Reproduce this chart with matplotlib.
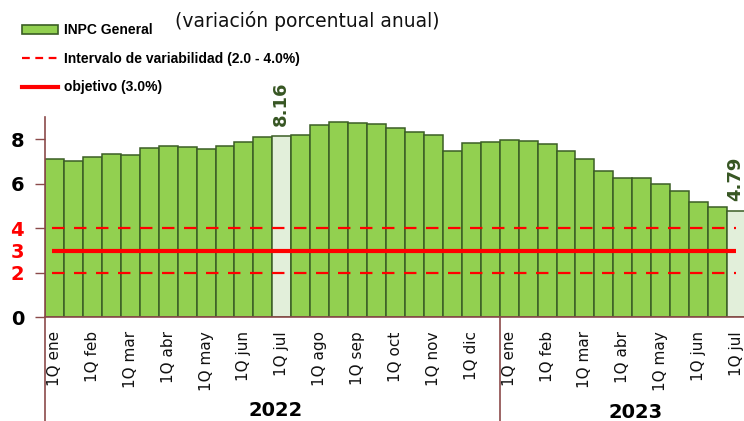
import matplotlib
matplotlib.use("Agg")
import matplotlib.pyplot as plt
import matplotlib.transforms as mtransforms
from matplotlib.patches import Patch
from matplotlib.lines import Line2D

# ---- data ----
values_2022 = [7.13, 7.02, 7.22, 7.35, 7.31, 7.62, 7.71, 7.67, 7.58, 7.71, 7.89, 8.12,
               8.16, 8.18, 8.63, 8.79, 8.75, 8.67, 8.52, 8.31, 8.18, 7.49, 7.82, 7.89]
values_2023 = [7.95, 7.91, 7.77, 7.49, 7.11, 6.59, 6.26, 6.26, 5.99, 5.69, 5.18, 4.94, 4.79]
months_2022 = ["ene", "feb", "mar", "abr", "may", "jun", "jul", "ago", "sep", "oct", "nov", "dic"]
months_2023 = ["ene", "feb", "mar", "abr", "may", "jun", "jul"]
years = ["2022", "2023"]
highlight_idx = [12, 36]
band_low, band_high, target = 2.0, 4.0, 3.0

values = values_2022 + values_2023
n = len(values)
tick_pos = list(range(0, n, 2))
tick_labels = ["1Q " + m for m in months_2022 + months_2023]

GREEN = "#92D050"
LIGHT = "#E2EFDA"
EDGE = "#3B5E25"
DARKG = "#375623"
RED = "#FF0000"
SPINE = "#8B4A4A"

fig = plt.figure(figsize=(7.44, 4.21), dpi=100)
W, H = 744, 421
ax = fig.add_axes([45 / W, (H - 317.3) / H, 701 / W, 200.3 / H])

colors = [LIGHT if i in highlight_idx else GREEN for i in range(n)]
ax.bar(range(n), values, width=1.0, color=colors, edgecolor=EDGE, linewidth=1.1, zorder=2)

ax.hlines([band_low, band_high], -0.13, 35.97, colors=RED, linewidth=1.6,
          linestyles=(0, (5.6, 4.3)), zorder=3)
ax.hlines([target], -0.13, 35.97, colors=RED, linewidth=3.0, zorder=3)

ax.set_xlim(-0.5, n - 0.5)
ax.set_ylim(0, 9)

ax.set_yticks([0, 2, 3, 4, 6, 8])
ax.set_yticklabels(["0", "2", "3", "4", "6", "8"], fontsize=14, fontweight="bold",
                   family="DejaVu Sans")
for lbl, c in zip(ax.get_yticklabels(), ["black", RED, RED, RED, "black", "black"]):
    lbl.set_color(c)
ax.yaxis.get_major_ticks()[2].tick1line.set_visible(False)
ax.tick_params(axis="y", length=7, width=1, color=SPINE, pad=8)

ax.set_xticks(tick_pos)
ax.set_xticklabels(tick_labels, rotation=90, fontsize=11, family="DejaVu Sans",
                   color="#111111")
ax.tick_params(axis="x", length=0, pad=10)

for s in ["top", "right"]:
    ax.spines[s].set_visible(False)
for s in ["left", "bottom"]:
    ax.spines[s].set_color(SPINE)
    ax.spines[s].set_linewidth(1.2)

# year separators below the axis
trans = mtransforms.blended_transform_factory(ax.transData, ax.transAxes)
for xsep in [-0.5, 23.5]:
    ax.plot([xsep, xsep], [0, -0.6], transform=trans, color=SPINE, lw=1.2, clip_on=False)

fig.text(276 / W, 1 - 410 / H, years[0], ha="center", va="center", fontsize=14,
         fontweight="bold", family="DejaVu Sans")
fig.text(636 / W, 1 - 412 / H, years[1], ha="center", va="center", fontsize=14,
         fontweight="bold", family="DejaVu Sans")

# value annotations
for i in highlight_idx:
    ax.annotate(f"{values[i]:.2f}", (i, values[i]), xytext=(-1, 7), textcoords="offset points",
                rotation=90, ha="center", va="bottom", fontsize=13, fontweight="bold",
                color=DARKG, family="DejaVu Sans", annotation_clip=False)

# legend
handles = [Patch(facecolor=GREEN, edgecolor=EDGE, linewidth=1.2),
           Line2D([], [], color=RED, lw=1.6, linestyle=(0, (3.5, 2.5))),
           Line2D([], [], color=RED, lw=3.0)]
labels = ["INPC General", "Intervalo de variabilidad (2.0 - 4.0%)", "objetivo (3.0%)"]
leg = fig.legend(handles, labels, loc="upper left", bbox_to_anchor=(22 / W, 1 - 23 / H),
                 frameon=False, handlelength=2.6, handleheight=0.6, handletextpad=0.4,
                 labelspacing=1.05, borderpad=0, borderaxespad=0,
                 prop={"family": "Liberation Sans", "weight": "bold", "size": 10})

fig.text(175 / W, 1 - 21 / H, "(variación porcentual anual)", ha="left", va="center",
         fontsize=13.5, family="DejaVu Sans", color="#111111")

fig.savefig("out.png", dpi=100)
